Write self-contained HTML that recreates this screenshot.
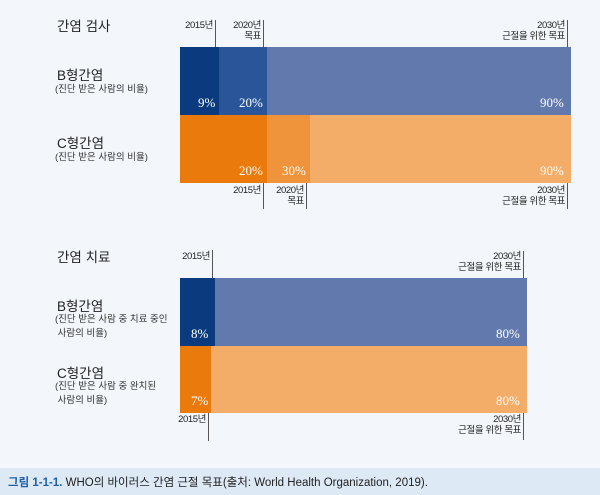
<!DOCTYPE html>
<html><head><meta charset="utf-8"><style>
body{margin:0;width:600px;height:495px;background:#f3f7fb;position:relative;overflow:hidden;font-family:"Liberation Sans","Noto Sans CJK KR",sans-serif;color:#222}
.a{position:absolute}
.seg{position:absolute}
.pct{position:absolute;font-family:"Liberation Serif",serif;font-size:13px;color:#fff}
.ln{position:absolute;width:1px;background:#555}
.lb{position:absolute;font-size:9.5px;line-height:11px;text-align:right;color:#222;letter-spacing:-0.4px;white-space:nowrap}
.t{position:absolute;font-size:13.5px;color:#222}
.h{position:absolute;font-size:13.5px;color:#222}
.s{position:absolute;font-size:9.5px;line-height:14px;color:#333;white-space:nowrap}
</style></head><body>
<div class="t" style="left:57px;top:15px">간염 검사</div>
<div class="h" style="left:57px;top:64px">B형간염</div>
<div class="s" style="left:55px;top:83px">(진단 받은 사람의 비율)</div>
<div class="h" style="left:57px;top:132px">C형간염</div>
<div class="s" style="left:55px;top:151px">(진단 받은 사람의 비율)</div>

<div class="seg" style="left:180px;top:47px;width:39px;height:68px;background:#0b3b7e"></div>
<div class="seg" style="left:219px;top:47px;width:48px;height:68px;background:#2b5599"></div>
<div class="seg" style="left:267px;top:47px;width:304px;height:68px;background:#6279ad"></div>
<div class="seg" style="left:180px;top:115px;width:87px;height:68px;background:#eb7a0d"></div>
<div class="seg" style="left:267px;top:115px;width:43px;height:68px;background:#f0943b"></div>
<div class="seg" style="left:310px;top:115px;width:261px;height:68px;background:#f4ad68"></div>
<div class="pct" style="left:198px;top:95px">9%</div>
<div class="pct" style="left:239px;top:95px">20%</div>
<div class="pct" style="left:540px;top:95px">90%</div>
<div class="pct" style="left:239px;top:163px">20%</div>
<div class="pct" style="left:282px;top:163px">30%</div>
<div class="pct" style="left:540px;top:163px">90%</div>

<div class="ln" style="left:215px;top:20px;height:27px"></div>
<div class="lb" style="right:387px;top:20px">2015년</div>
<div class="ln" style="left:263px;top:20px;height:27px"></div>
<div class="lb" style="right:339px;top:20px">2020년<br>목표</div>
<div class="ln" style="left:567px;top:20px;height:27px"></div>
<div class="lb" style="right:35px;top:20px">2030년<br>근절을 위한 목표</div>
<div class="ln" style="left:263px;top:183px;height:26px"></div>
<div class="lb" style="right:339px;top:185px">2015년</div>
<div class="ln" style="left:306px;top:183px;height:26px"></div>
<div class="lb" style="right:296px;top:185px">2020년<br>목표</div>
<div class="ln" style="left:567px;top:183px;height:26px"></div>
<div class="lb" style="right:35px;top:185px">2030년<br>근절을 위한 목표</div>

<div class="t" style="left:57px;top:246px">간염 치료</div>
<div class="h" style="left:57px;top:295px">B형간염</div>
<div class="s" style="left:55px;top:313px">(진단 받은 사람 중 치료 중인<br>&nbsp;사람의 비율)</div>
<div class="h" style="left:57px;top:362px">C형간염</div>
<div class="s" style="left:55px;top:380px">(진단 받은 사람 중 완치된<br>&nbsp;사람의 비율)</div>

<div class="seg" style="left:180px;top:278px;width:35px;height:68px;background:#0b3b7e"></div>
<div class="seg" style="left:215px;top:278px;width:312px;height:68px;background:#6279ad"></div>
<div class="seg" style="left:180px;top:346px;width:31px;height:67px;background:#eb7a0d"></div>
<div class="seg" style="left:211px;top:346px;width:316px;height:67px;background:#f4ad68"></div>
<div class="pct" style="left:191px;top:326px">8%</div>
<div class="pct" style="left:496px;top:326px">80%</div>
<div class="pct" style="left:191px;top:393px">7%</div>
<div class="pct" style="left:496px;top:393px">80%</div>

<div class="ln" style="left:212px;top:250px;height:28px"></div>
<div class="lb" style="right:390px;top:251px">2015년</div>
<div class="ln" style="left:523px;top:251px;height:27px"></div>
<div class="lb" style="right:79px;top:251px">2030년<br>근절을 위한 목표</div>
<div class="ln" style="left:208px;top:413px;height:28px"></div>
<div class="lb" style="right:394px;top:414px">2015년</div>
<div class="ln" style="left:523px;top:413px;height:27px"></div>
<div class="lb" style="right:79px;top:414px">2030년<br>근절을 위한 목표</div>

<div class="a" style="left:0;top:468px;width:600px;height:27px;background:#dde9f5"></div>
<div class="a" style="left:8px;top:474px;font-size:11.5px;color:#222;white-space:nowrap"><span style="color:#1d5fa8;font-weight:bold">그림 1-1-1.</span> WHO의 바이러스 간염 근절 목표(출처: World Health Organization, 2019).</div>
</body></html>
